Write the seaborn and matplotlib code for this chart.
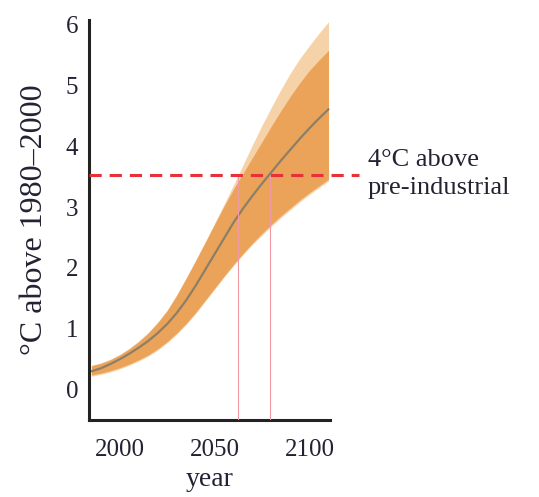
import numpy as np
import pandas as pd
import matplotlib
matplotlib.use("Agg")
import matplotlib.pyplot as plt
import seaborn as sns
from matplotlib.ticker import MultipleLocator

years = [1985, 1990, 1995, 2000, 2005, 2010, 2015, 2020, 2025, 2030, 2035, 2040, 2045,
         2050, 2055, 2060, 2065, 2070, 2075, 2080, 2085, 2090, 2095, 2100, 2105, 2110]
median = [0.30, 0.35, 0.42, 0.50, 0.59, 0.69, 0.80, 0.93, 1.08, 1.26, 1.47, 1.71, 1.97,
          2.23, 2.49, 2.75, 2.98, 3.19, 3.39, 3.58, 3.77, 3.95, 4.13, 4.30, 4.46, 4.61]
inner_low = [0.24, 0.27, 0.31, 0.36, 0.42, 0.49, 0.57, 0.67, 0.79, 0.93, 1.09, 1.27, 1.47,
             1.67, 1.87, 2.06, 2.24, 2.41, 2.57, 2.72, 2.86, 2.99, 3.12, 3.24, 3.35, 3.46]
inner_high = [0.39, 0.43, 0.49, 0.57, 0.67, 0.79, 0.93, 1.10, 1.30, 1.55, 1.83, 2.12, 2.42,
              2.72, 3.02, 3.30, 3.56, 3.82, 4.08, 4.34, 4.59, 4.83, 5.05, 5.25, 5.42, 5.58]
outer_low = [0.22, 0.25, 0.29, 0.34, 0.40, 0.47, 0.55, 0.65, 0.77, 0.91, 1.07, 1.25, 1.45,
             1.65, 1.85, 2.04, 2.22, 2.39, 2.54, 2.69, 2.83, 2.96, 3.09, 3.21, 3.32, 3.43]
outer_high = [0.40, 0.44, 0.50, 0.58, 0.68, 0.80, 0.94, 1.11, 1.31, 1.56, 1.84, 2.13, 2.43,
              2.74, 3.05, 3.37, 3.70, 4.03, 4.35, 4.65, 4.94, 5.21, 5.45, 5.66, 5.86, 6.05]
threshold = 3.53
crossing_years = [2062.5, 2079]

df = pd.DataFrame({"year": years, "median": median})

sns.set_style("white")
plt.rcParams["font.family"] = ["Liberation Serif", "DejaVu Serif"]

fig = plt.figure(figsize=(5.39, 4.97), dpi=100)
ax = fig.add_axes([0.166, 0.155, 0.447, 0.805])

ax.fill_between(years, outer_low, outer_high, color="#F6D2A8", lw=0)
ax.fill_between(years, inner_low, inner_high, color="#EBA35A", lw=0)
sns.lineplot(data=df, x="year", y="median", ax=ax, color="#8C7F68", lw=1.6)

ax.axhline(threshold, xmin=0, xmax=1.12, color="#E8303A", lw=2.2,
           dashes=(4, 2.6), clip_on=False, zorder=5)
for yr in crossing_years:
    ax.vlines(yr, -0.5, threshold, color="#F29AA4", lw=0.8, zorder=4)

ax.set_xlim(1984, 2111)
ax.set_ylim(-0.5, 6.08)
ax.set_xticks([2000, 2050, 2100])
ax.set_yticks([0, 1, 2, 3, 4, 5, 6])
ax.xaxis.set_minor_locator(MultipleLocator(5))
ax.yaxis.set_minor_locator(MultipleLocator(0.25))
ax.tick_params(which="both", direction="in", colors="#333333", labelcolor="#222233")
ax.tick_params(which="major", length=5, width=1.2, labelsize=18)
ax.tick_params(which="minor", length=3.5, width=1.0)
ax.tick_params(axis="x", pad=14)
ax.tick_params(axis="y", pad=8)

for s in ["top", "right"]:
    ax.spines[s].set_visible(False)
for s in ["left", "bottom"]:
    ax.spines[s].set_color("#222222")
    ax.spines[s].set_linewidth(2.2)

ax.set_xlabel("year", fontsize=20, color="#222233", labelpad=4)
ax.set_ylabel("°C above 1980–2000", fontsize=23, color="#222233", labelpad=12)

ax.text(1.155, threshold + 0.02, "4°C above\npre-industrial", transform=ax.get_yaxis_transform(),
        fontsize=19, color="#222233", va="center", ha="left", linespacing=1.35)

fig.savefig("out.png", dpi=100)
